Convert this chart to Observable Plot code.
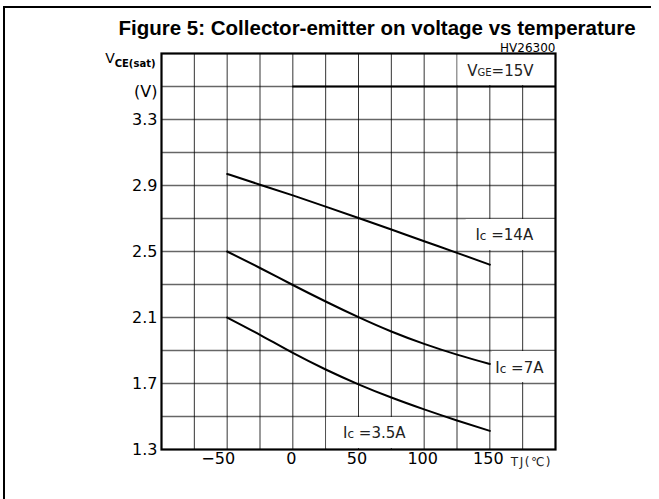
<!DOCTYPE html>
<html><head><meta charset="utf-8">
<script src="https://cdn.jsdelivr.net/npm/d3@7"></script>
<script src="https://cdn.jsdelivr.net/npm/@observablehq/plot@0.6"></script>
<style>
body{margin:0;background:#fff;}
#wrap{position:relative;width:659px;height:499px;overflow:hidden;background:#fff;}
#wrap svg{position:absolute;left:0;top:0;}
.bl{position:absolute;background:#000;}
</style></head><body>
<div id="wrap">
<div class="bl" style="left:3px;top:6px;width:2px;height:493px"></div>
<div class="bl" style="left:3px;top:6px;width:648px;height:2px"></div>
</div>
<script>
const temperatures = [-50, -25, 0, 25, 50, 75, 100, 125, 150];
const ic14A  = [2.97, 2.905, 2.84, 2.772, 2.703, 2.633, 2.562, 2.492, 2.42];
const ic7A   = [2.50, 2.40, 2.297, 2.197, 2.102, 2.015, 1.94, 1.875, 1.818];
const ic3_5A = [2.10, 1.995, 1.885, 1.785, 1.695, 1.615, 1.543, 1.476, 1.413];
const seriesNames = ["Ic =14A", "Ic =7A", "Ic =3.5A"];
const yTicks = [1.3, 1.7, 2.1, 2.5, 2.9, 3.3];
const xTicks = [0, 50, 100, 150];
const xNegTicks = [-50];
const xGrid = [-75, -50, -25, 0, 25, 50, 75, 100, 125, 150, 175];
const yGrid = [1.5, 1.7, 1.9, 2.1, 2.3, 2.5, 2.7, 2.9, 3.1, 3.3, 3.5];

const seriesValues = [ic14A, ic7A, ic3_5A];
const points = seriesNames.flatMap((name, s) =>
  temperatures.map((t, i) => ({series: name, t, v: seriesValues[s][i]})));

const FONT = "DejaVu Sans";

const chart = Plot.plot({
  width: 659,
  height: 499,
  marginLeft: 161,
  marginRight: 104,
  marginTop: 53,
  marginBottom: 50,
  style: {fontFamily: FONT, fontSize: "16px", background: "transparent", color: "#000"},
  x: {domain: [-100, 200]},
  y: {domain: [1.3, 3.7]},
  marks: [
    Plot.gridX(xGrid, {stroke: "#000", strokeOpacity: 0.8, strokeWidth: 1}),
    Plot.gridY(yGrid, {stroke: "#000", strokeOpacity: 0.6, strokeWidth: 1.3}),
    Plot.rect([0], {x1: 125, x2: 200, y1: 3.5, y2: 3.7, fill: "white", inset: 1}),
    Plot.rect([0], {x1: 132, x2: 200, y1: 2.5, y2: 2.7, fill: "white", insetTop: 1, insetBottom: 1}),
    Plot.rect([0], {x1: 152, x2: 200, y1: 1.7, y2: 1.9, fill: "white", insetTop: 1, insetBottom: 1}),
    Plot.rect([0], {x1: 25, x2: 100, y1: 1.3, y2: 1.5, fill: "white", inset: 1}),
    Plot.ruleY([3.5], {x1: 0, x2: 200, stroke: "#000", strokeWidth: 2}),
    Plot.frame({stroke: "#000", strokeWidth: 2.2}),
    Plot.axisY(yTicks, {tickSize: 0, tickPadding: 4, fontSize: 16, label: null, tickFormat: d => d.toFixed(1)}),
    Plot.axisX(xTicks, {tickSize: 0, tickPadding: 3, fontSize: 16, label: null, dx: -1.5}),
    Plot.axisX(xNegTicks, {tickSize: 0, tickPadding: 3, fontSize: 16, label: null, dx: -9}),
    Plot.line(points, {x: "t", y: "v", z: "series", stroke: "#000", strokeWidth: 2, curve: "natural"}),
    Plot.text(["Ic =14A"], {x: 161, y: 2.6, fontSize: 15, fill: "#222"}),
    Plot.text(["Ic =7A"], {x: 172.5, y: 1.79, fontSize: 15, fill: "#222"}),
    Plot.text(["Ic =3.5A"], {x: 62, y: 1.4, fontSize: 15, fill: "#222"}),
    Plot.text(["VGE=15V"], {x: 158, y: 3.59, fontSize: 15, fill: "#222"}),
    Plot.text(["TJ(℃)"], {x: 166, y: 1.3, dy: 13, textAnchor: "start", fontSize: 12, fill: "#222"}),
    Plot.text(["(V)"], {frameAnchor: "top-left", textAnchor: "end", dx: -4, dy: 32, fontSize: 16}),
    Plot.text(["VCE(sat)"], {frameAnchor: "top-left", textAnchor: "end", dx: -6, dy: 0, fontSize: 14}),
    Plot.text(["HV26300"], {frameAnchor: "top-right", textAnchor: "end", dy: -10, fontSize: 12}),
    Plot.text(["Figure 5: Collector-emitter on voltage vs temperature"], {frameAnchor: "top-left", textAnchor: "start", dx: -43, dy: -33, fontSize: 20.5, fontWeight: "bold", fontFamily: "Liberation Sans"})
  ]
});

const sel = d3.select(chart);
sel.selectAll("text").each(function() {
  const t = this.textContent;
  const el = d3.select(this);
  if (t === "VGE=15V") el.html('V<tspan font-size="10">GE</tspan>=15V');
  else if (t === "VCE(sat)") el.html('V<tspan font-size="10" dy="4" font-weight="bold">CE(sat)</tspan>');
  else if (t.startsWith("Ic =")) el.html('I<tspan font-size="12">c</tspan> ' + t.slice(3));
  else if (t === "TJ(℃)") el.attr("letter-spacing", "1.5");
});
document.getElementById("wrap").appendChild(chart);
</script>
</body></html>
